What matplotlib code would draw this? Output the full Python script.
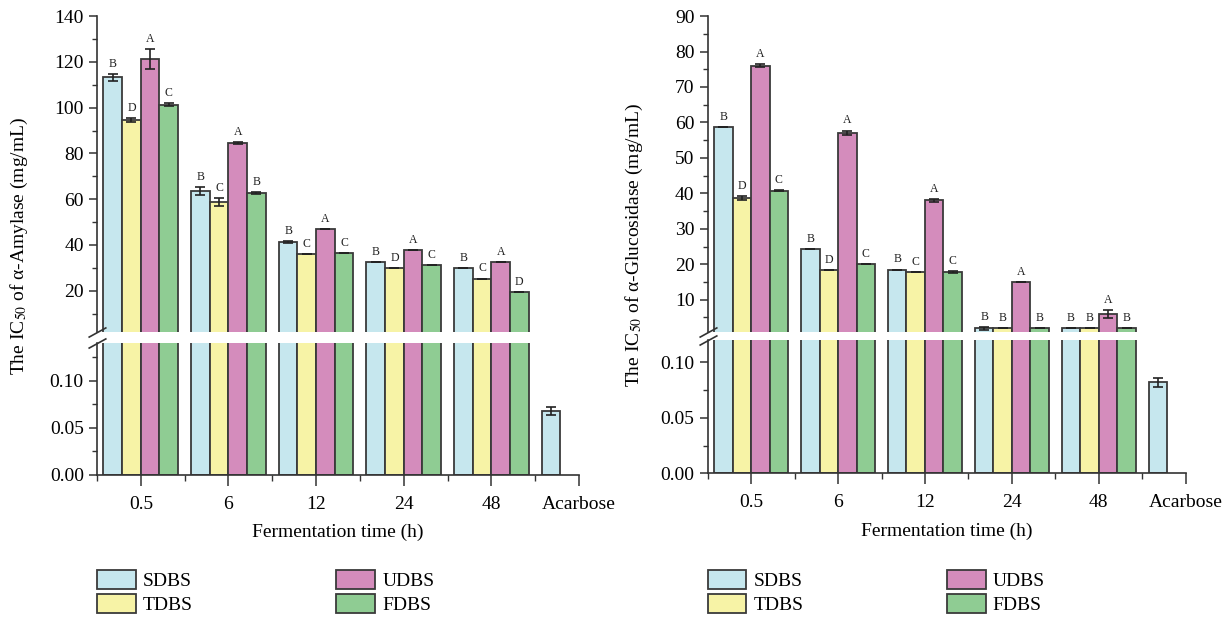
import matplotlib
matplotlib.use("Agg")
import matplotlib.pyplot as plt
import numpy as np

plt.rcParams['font.family'] = ['Liberation Serif', 'DejaVu Serif']
plt.rcParams['mathtext.fontset'] = 'stix'

# ---- data ----
times = ["0.5", "6", "12", "24", "48"]
series = ["SDBS", "TDBS", "UDBS", "FDBS"]
colors = ["#C6E7EE", "#F7F3A6", "#D48CBC", "#8FCC93"]

# alpha-amylase IC50 (mg/mL)
amy_sdbs = [113.2, 63.6, 41.3, 32.6, 29.9]
amy_tdbs = [94.5, 58.8, 36.0, 29.9, 25.3]
amy_udbs = [121.3, 84.6, 46.8, 37.9, 32.5]
amy_fdbs = [101.2, 62.8, 36.4, 31.4, 19.6]
amy_sdbs_err = [1.6, 1.8, 0.3, 0, 0]
amy_tdbs_err = [0.9, 1.6, 0, 0, 0]
amy_udbs_err = [4.3, 0.5, 0, 0, 0]
amy_fdbs_err = [0.7, 0.4, 0, 0, 0]
amy_letters = [["B", "D", "A", "C"], ["B", "C", "A", "B"], ["B", "C", "A", "C"],
               ["B", "D", "A", "C"], ["B", "C", "A", "D"]]
amy_acarbose = 0.068
amy_acarbose_err = 0.004

# alpha-glucosidase IC50 (mg/mL)
glu_sdbs = [58.6, 24.2, 18.5, 2.0, 2.0]
glu_tdbs = [38.7, 18.4, 17.8, 2.0, 2.0]
glu_udbs = [76.0, 57.1, 38.0, 14.9, 6.0]
glu_fdbs = [40.8, 20.0, 17.8, 2.0, 2.0]
glu_sdbs_err = [0, 0, 0, 0.4, 0]
glu_tdbs_err = [0.6, 0, 0, 0, 0]
glu_udbs_err = [0.4, 0.6, 0.5, 0, 1.2]
glu_fdbs_err = [0.2, 0, 0.3, 0, 0]
glu_letters = [["B", "D", "A", "C"], ["B", "D", "A", "C"], ["B", "C", "A", "C"],
               ["B", "B", "A", "B"], ["B", "B", "A", "B"]]
glu_acarbose = 0.082
glu_acarbose_err = 0.004

fig = plt.figure(figsize=(12.31, 6.18), dpi=100)

bw = 0.213
edge = "#3a3a3a"


def draw_panel(x0, w, up_box, low_box, vals, errs, letters, acar, acar_err,
               up_lim, up_major, up_minor, low_lim, ylabel, ylabel_x):
    ax_up = fig.add_axes([x0, up_box[0], w, up_box[1] - up_box[0]])
    ax_lo = fig.add_axes([x0, low_box[0], w, low_box[1] - low_box[0]])
    x = np.arange(len(times))
    for k in range(4):
        pos = x + (k - 1.5) * bw
        for ax in (ax_up, ax_lo):
            ax.bar(pos, vals[k], bw, color=colors[k], edgecolor=edge, linewidth=1.3,
                   label=series[k] if ax is ax_up else None)
        ax_up.errorbar(pos, vals[k], yerr=errs[k], fmt="none", ecolor="#222222",
                       elinewidth=1.2, capsize=3.5, capthick=1.2)
        for i in range(len(times)):
            ax_up.annotate(letters[i][k], (pos[i], vals[k][i] + errs[k][i]),
                           xytext=(0, 3), textcoords="offset points",
                           ha="center", va="bottom", fontsize=8.5, color="#222222")
    # acarbose sits in the first slot of the sixth group
    ax_lo.bar(5 - 1.5 * bw, acar, bw, color=colors[0], edgecolor=edge, linewidth=1.3)
    ax_lo.errorbar(5 - 1.5 * bw, acar, yerr=acar_err, fmt="none", ecolor="#222222",
                   elinewidth=1.2, capsize=3.5, capthick=1.2)

    for ax in (ax_up, ax_lo):
        ax.set_xlim(-0.5, 5)
        for s in ("top", "right"):
            ax.spines[s].set_visible(False)
        ax.spines["left"].set_linewidth(1.2)
        ax.spines["left"].set_color("#333333")
        ax.tick_params(axis="y", direction="out", length=6, width=1.1,
                       labelsize=14, color="#333333")
        ax.tick_params(axis="y", which="minor", direction="out", length=3.5,
                       width=1.0, color="#333333")

    ax_up.spines["bottom"].set_visible(False)
    ax_up.set_xticks([])
    ax_up.set_ylim(*up_lim)
    ax_up.set_yticks(up_major)
    ax_up.set_yticks(up_minor, minor=True)

    ax_lo.set_ylim(*low_lim)
    ax_lo.set_yticks([0, 0.05, 0.10])
    ax_lo.set_yticklabels(["0.00", "0.05", "0.10"])
    ax_lo.set_yticks(np.arange(0.025, low_lim[1], 0.05), minor=True)
    ax_lo.spines["bottom"].set_linewidth(1.2)
    ax_lo.spines["bottom"].set_color("#333333")
    ax_lo.set_xticks(range(6))
    ax_lo.set_xticklabels(times + ["Acarbose"])
    ax_lo.set_xticks(np.arange(-0.5, 5, 1.0), minor=True)
    ax_lo.tick_params(axis="x", direction="out", length=8, width=1.1,
                      labelsize=14, pad=7, color="#333333")
    ax_lo.tick_params(axis="x", which="minor", direction="out", length=4,
                      width=1.0, color="#333333")
    ax_lo.set_xlabel("Fermentation time (h)", fontsize=14, labelpad=8)

    # break marks on the y axis
    kw = dict(marker=[(-1, -0.55), (1, 0.55)], markersize=13, linestyle="none",
              color="#333333", mec="#333333", mew=1.2, clip_on=False)
    ax_up.plot([0], [0], transform=ax_up.transAxes, **kw)
    ax_lo.plot([0], [1], transform=ax_lo.transAxes, **kw)

    fig.text(ylabel_x, (up_box[1] + low_box[0]) / 2, ylabel, rotation=90,
             ha="center", va="center", fontsize=14)

    fig.legend(*ax_up.get_legend_handles_labels(), ncol=2, loc="upper left",
               bbox_to_anchor=(x0 - 0.008, 0.093), frameon=False, fontsize=14,
               handlelength=2.0, handleheight=1.1, handletextpad=0.35,
               columnspacing=7.4, labelspacing=0.2, borderpad=0.0)


amy_vals = [amy_sdbs, amy_tdbs, amy_udbs, amy_fdbs]
amy_errs = [amy_sdbs_err, amy_tdbs_err, amy_udbs_err, amy_fdbs_err]
glu_vals = [glu_sdbs, glu_tdbs, glu_udbs, glu_fdbs]
glu_errs = [glu_sdbs_err, glu_tdbs_err, glu_udbs_err, glu_fdbs_err]

draw_panel(0.0788, 0.3916, (0.4628, 0.974), (0.2314, 0.445), amy_vals, amy_errs,
           amy_letters, amy_acarbose, amy_acarbose_err,
           (2, 140), np.arange(20, 141, 20), np.arange(10, 141, 20), (0, 0.14),
           r"The IC$_{50}$ of α-Amylase (mg/mL)", 0.016)

draw_panel(0.5749, 0.3883, (0.4633, 0.974), (0.2341, 0.4498), glu_vals, glu_errs,
           glu_letters, glu_acarbose, glu_acarbose_err,
           (1, 90), np.arange(10, 91, 10), np.arange(5, 90, 10), (0, 0.12),
           r"The IC$_{50}$ of α-Glucosidase (mg/mL)", 0.515)

fig.savefig("out.png", dpi=100)
